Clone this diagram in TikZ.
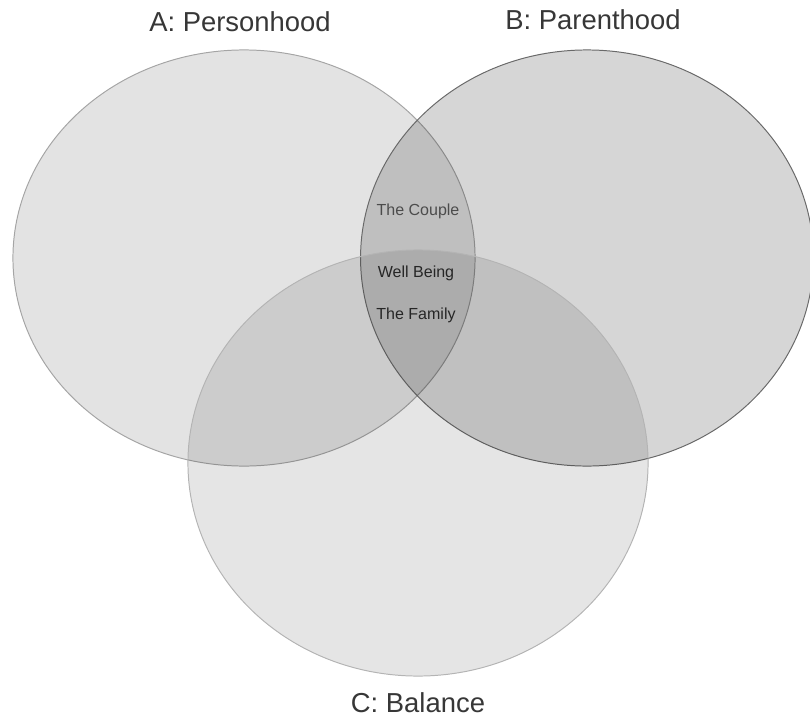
\documentclass[tikz,border=0pt]{standalone}
\usepackage{fontspec}
\setmainfont{Liberation Sans}
\usetikzlibrary{shapes.geometric}
\definecolor{venn_line_a}{RGB}{165, 165, 165}
\definecolor{venn_line_b}{RGB}{105, 105, 105}
\definecolor{venn_line_c}{RGB}{180, 180, 180}
\definecolor{venn_text}{RGB}{55, 55, 55}
\tikzstyle{setshape}=[ellipse,inner sep=0pt,fill=black,line width=0.7pt]
\tikzstyle{title}=[text=venn_text,font=\fontsize{19.5}{23}\selectfont]
\tikzstyle{inner}=[text=black!85,font=\fontsize{11.4}{13}\selectfont]
\tikzstyle{none}=[]

\begin{document}
\begin{tikzpicture}[x=0.025cm,y=-0.025cm]
            \useasboundingbox (0, 0) rectangle (810, 717);
            \node [style=setshape,draw=venn_line_a,fill opacity=0.11,minimum width=11.55cm,minimum height=10.4cm] (setA) at (244, 258) {};
            \node [style=setshape,draw=venn_line_b,fill opacity=0.16,minimum width=11.32cm,minimum height=10.4cm] (setB) at (587, 258) {};
            \node [style=setshape,draw=venn_line_c,fill opacity=0.10,minimum width=11.5cm,minimum height=10.65cm] (setC) at (418, 463) {};
            \node [style=title] (0) at (240, 22) {A: Personhood};
            \node [style=title] (1) at (593, 20) {B: Parenthood};
            \node [style=title] (2) at (418, 703) {C: Balance};
            \node [style=inner,text=black!70] (3) at (418, 211) {The Couple};
            \node [style=inner] (4) at (416, 273) {Well Being};
            \node [style=inner] (5) at (416, 315) {The Family};
    \end{tikzpicture}
\end{document}
